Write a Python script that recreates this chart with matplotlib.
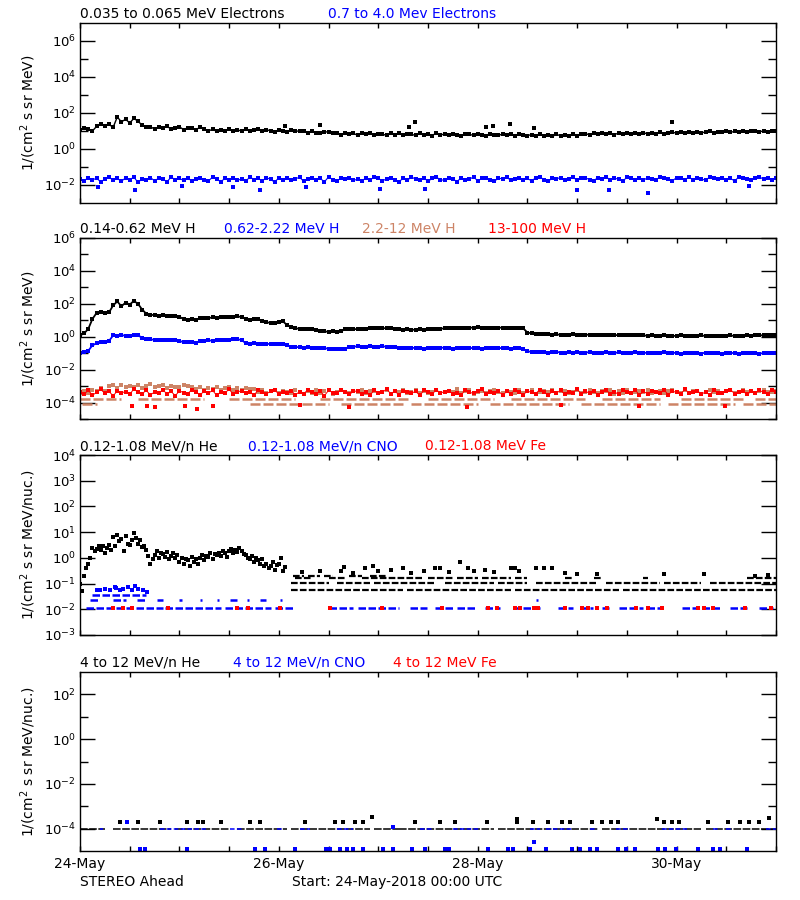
import numpy as np
import matplotlib
matplotlib.use('Agg')
import matplotlib.pyplot as plt
from matplotlib.ticker import FixedLocator, LogFormatterMathtext, NullFormatter, NullLocator

plt.rcParams['font.family'] = ['DejaVu Sans']
plt.rcParams['mathtext.default'] = 'regular'

BLUE = '#0000FF'
RED = '#FF0000'
TAN = '#CD8466'

# ---------------- time axis (hours after 24-May-2018 00:00) ----------------
tick_hours = [0, 12, 24, 36, 48, 60, 72, 84, 96, 108, 120, 132, 144, 156, 168]
date_label_hours = [0, 48, 96, 144]
date_labels = ['24-May', '26-May', '28-May', '30-May']

# ---------------- panel 1 : electrons (hourly) ----------------
e_low = [11, 15, 12.5, 10,
         18, 25, 20, 23,
         16,
         60, 32, 45, 28, 50, 35,
         21, 17,
         17, 13, 16, 14, 18, 13, 15, 17, 12, 15, 14, 12, 16,
         13, 10, 12.5, 9.5, 12, 10.5, 13, 9.8, 11.5, 10, 12.8, 9.6, 11, 12.2, 9.5, 11.8, 10.2, 9.2, 11.6, 10, 8.9, 11.2, 9.4, 10.4,
         9.5, 7.8, 9.8, 8.2, 7.4, 9.2, 8.6, 7.6,
         7.6, 6.2, 7.8, 6.5, 7.3, 5.9, 7.5, 6.4, 7.9, 6.1, 7.2, 6.6, 5.8, 7.4, 6.3, 7.7, 6.0, 7.1, 6.5, 5.7,
         7.3, 6.2, 6.9, 5.6, 7.6, 6.0, 6.8, 5.9, 7.2, 6.3, 5.5, 7.0, 6.4, 5.8, 6.9, 6.1, 5.4, 7.1, 6.2, 5.7,
         6.8, 5.9, 6.5, 5.3, 6.9, 6.0, 5.6,
         6.3, 5.2, 6.7, 5.5, 6.1, 5.0, 6.5, 5.4, 6.2, 5.6, 6.8, 5.3, 6.4,
         7.2, 6.1, 7.6, 6.4, 7.9, 6.6, 7.3, 6.2, 7.8, 6.7, 8.1, 6.5, 7.4, 6.9, 8.2, 6.8, 7.5, 7.0, 8.3, 6.9, 7.7,
         8.6, 7.5, 9.1, 7.8, 8.8, 7.6, 9.3, 8.0, 8.7, 9.5, 8.1, 9.2, 8.3, 9.8, 8.5, 9.4, 8.8, 10.2, 8.9, 9.6,
         10.4, 9.0, 10.1, 9.3, 10.6, 9.7]
e_low_out_h = [49.4, 57.9, 79.4, 80.8, 97.9, 99.6, 103.7, 109.7, 143]
e_low_out_v = [19, 21, 17, 33, 17, 20, 24, 15, 33]

e_high = [0.022, 0.017, 0.026, 0.019, 0.024, 0.015, 0.021, 0.028, 0.018, 0.023,
          0.016, 0.025, 0.02, 0.027, 0.014, 0.022, 0.019, 0.026, 0.017, 0.024,
          0.021, 0.015, 0.028, 0.019, 0.023, 0.018, 0.026, 0.016, 0.022, 0.025,
          0.02, 0.017, 0.027, 0.021, 0.015, 0.024, 0.019, 0.026, 0.018, 0.022,
          0.016, 0.028, 0.02, 0.023, 0.017, 0.025, 0.021, 0.014, 0.026, 0.019,
          0.024, 0.018, 0.022, 0.027, 0.016, 0.021, 0.025, 0.019, 0.023, 0.015,
          0.028, 0.02, 0.017, 0.024, 0.022, 0.026, 0.018, 0.021, 0.016, 0.025,
          0.019, 0.027, 0.023, 0.017, 0.022, 0.026, 0.02, 0.015, 0.024, 0.018,
          0.028, 0.021, 0.019, 0.025, 0.016, 0.023, 0.027, 0.02, 0.018, 0.024,
          0.022, 0.015, 0.026, 0.019, 0.021, 0.028, 0.017, 0.023, 0.025, 0.02,
          0.016, 0.024, 0.022, 0.027, 0.018, 0.021, 0.026, 0.019, 0.023, 0.017,
          0.025, 0.028, 0.02, 0.016, 0.024, 0.022, 0.026, 0.019, 0.021, 0.027,
          0.018, 0.023, 0.025, 0.02, 0.017, 0.026, 0.022, 0.028, 0.019, 0.024,
          0.021, 0.016, 0.027, 0.023, 0.02, 0.025, 0.018, 0.026, 0.022, 0.019,
          0.028, 0.024, 0.021, 0.017, 0.026, 0.023, 0.02, 0.027, 0.019, 0.025,
          0.022, 0.018, 0.028, 0.024, 0.021, 0.026, 0.02, 0.023, 0.017, 0.027,
          0.025, 0.022, 0.019, 0.026, 0.028, 0.021, 0.024, 0.02, 0.023]
e_high_out_h = [4.3, 13.3, 24.6, 36.9, 43.4, 54.5, 72.4, 83.2, 119.9, 127.8, 137, 161.6]
e_high_out_v = [0.0077, 0.0053, 0.0085, 0.0077, 0.0053, 0.0077, 0.006, 0.006, 0.0053, 0.0053, 0.0036, 0.009]

# ---------------- panel 2 : protons (hourly) ----------------
h_014 = [1.2, 1.6, 3.0, 12,
         28, 31, 27, 30,
         80, 140, 70, 120, 90, 150, 100,
         45,
         25, 22, 20, 19, 20, 18, 17, 18, 16,
         12, 11, 11.5, 10.5,
         13, 14, 13.5, 15, 14, 15, 16, 15.5, 16, 17, 16,
         12, 11, 12, 11.5,
         9, 7.5, 7, 7.2, 7.8, 8.6,
         5, 3.8, 3.3, 3, 3.1, 2.8, 2.9, 2.6,
         2.2, 2.1, 2.0, 2.1, 2.0, 2.2,
         2.8, 2.9, 3.0, 2.8, 3.1, 2.9,
         3.3, 3.5, 3.4, 3.2, 3.4, 3.3, 3.0, 2.8,
         2.7, 2.8, 2.6, 2.7, 2.8, 2.7, 2.9, 2.8, 3.0, 3.1, 3.2, 3.3, 3.2, 3.4,
         3.4, 3.5, 3.6, 3.5, 3.7, 3.5, 3.6, 3.4, 3.5, 3.6, 3.5, 3.4, 3.5, 3.3, 3.4, 3.2,
         1.8, 1.6, 1.5, 1.4, 1.45, 1.4, 1.35, 1.4, 1.3, 1.35, 1.3, 1.4, 1.3, 1.25, 1.3, 1.35,
         1.3, 1.25, 1.3, 1.2, 1.25, 1.3, 1.2, 1.25, 1.2, 1.3, 1.2, 1.25,
         1.2, 1.15, 1.2, 1.1, 1.15, 1.2, 1.1, 1.15, 1.1, 1.2, 1.15, 1.1, 1.15, 1.1, 1.2, 1.1, 1.15,
         1.1, 1.05, 1.15, 1.1, 1.2, 1.1, 1.15, 1.1, 1.2, 1.15, 1.2, 1.25, 1.2, 1.25, 1.2, 1.3]

h_062 = [0.11, 0.12, 0.14,
         0.3, 0.4,
         0.45, 0.5, 0.55,
         1.2, 1.1, 1.25, 1.15, 1.1, 1.2, 1.3,
         0.8, 0.72, 0.68, 0.66, 0.64, 0.65, 0.62, 0.63, 0.6, 0.55,
         0.47, 0.45, 0.46, 0.44,
         0.55, 0.58, 0.6, 0.57, 0.62, 0.6, 0.63, 0.65, 0.7, 0.68, 0.65,
         0.4, 0.38, 0.39, 0.36, 0.37, 0.38, 0.35, 0.36, 0.34, 0.35, 0.3,
         0.25, 0.24, 0.23, 0.22, 0.23, 0.22, 0.21, 0.22, 0.2, 0.19, 0.18,
         0.18, 0.17, 0.19,
         0.24, 0.25, 0.26, 0.24, 0.25, 0.27, 0.25, 0.24, 0.26, 0.25, 0.24, 0.23, 0.22,
         0.21, 0.2, 0.22, 0.2, 0.21, 0.19, 0.2, 0.21, 0.2, 0.22, 0.21, 0.2, 0.19, 0.21, 0.2,
         0.22, 0.21, 0.2, 0.21, 0.19, 0.2, 0.22, 0.21, 0.2, 0.21, 0.2, 0.19, 0.21, 0.2, 0.18,
         0.13, 0.12, 0.125, 0.115, 0.12, 0.11, 0.115, 0.12, 0.11, 0.105, 0.115, 0.11, 0.12, 0.105, 0.11,
         0.115, 0.1, 0.11, 0.105, 0.12, 0.11, 0.1, 0.115, 0.105, 0.11, 0.1, 0.115, 0.105, 0.11, 0.1,
         0.105, 0.11, 0.1, 0.115, 0.105, 0.1, 0.11, 0.095, 0.105, 0.11, 0.1, 0.105, 0.095, 0.11, 0.1,
         0.105, 0.1, 0.095, 0.11, 0.1, 0.105, 0.095, 0.1, 0.105, 0.1, 0.11, 0.095, 0.1, 0.105, 0.1, 0.1]

# 2.2-12 MeV H, in units of 1e-4
h_22_x1e4 = [4.0, 5.1, 3.6, 6.2, 4.8, 7.5, 5.3,
             9.5, 11.0, 7.8, 12.0, 8.6, 10.5, 9.0, 11.5, 8.0, 10.0, 12.5, 8.8, 9.6, 11.2, 7.6, 10.8, 9.2, 8.4, 11.8, 9.8,
             8.5, 6.4, 9.2, 5.8, 7.9, 6.8, 8.8, 5.5, 7.2, 9.0, 6.1, 7.6, 5.9, 8.2, 6.6, 7.0,
             4.2, 5.5, 3.8, 4.9, 6.0, 3.6, 5.2, 4.4, 3.9, 5.8, 4.6, 3.4, 5.1, 4.0, 6.2, 3.7, 4.8, 5.4, 3.5, 4.3,
             5.6, 4.1, 3.8, 5.0, 4.5, 6.1, 3.6, 4.7, 5.3, 3.9, 4.4, 5.9, 3.5, 4.9, 4.2, 5.5, 3.7, 4.6, 6.0, 4.0,
             5.2, 3.8, 4.5, 5.7, 3.6, 4.3, 5.0, 4.1, 6.3, 3.9, 4.8, 5.4, 3.5, 4.4, 5.1, 3.7, 4.9, 5.8, 4.2, 3.6,
             5.3, 4.6, 4.0, 6.1, 3.8, 4.7, 5.5, 3.5, 4.3, 5.0, 4.1, 5.9, 3.7, 4.8, 5.2, 3.9, 4.5, 6.0, 3.6, 4.4,
             5.6, 4.2, 3.8, 5.1, 4.7, 5.4, 3.5, 4.9, 4.0, 5.8, 3.7, 4.6, 5.3, 4.1, 6.2, 3.9, 4.5, 5.0, 3.6, 4.8,
             5.5, 4.3, 3.8, 5.7, 4.0, 4.9, 5.2, 3.5, 4.6, 6.1, 4.2, 5.0, 3.9, 4.7, 5.4, 3.6, 4.4, 5.9, 4.1, 5.1,
             3.8, 4.8, 5.6, 4.3, 4.5, 5.2]
h_22_level1 = 1.7e-4
h_22_level1_spans = [(0, 10), (14, 30), (36, 52), (58, 80), (84, 100), (104, 122), (126, 140), (145, 160), (163, 168)]
h_22_level2 = 8.5e-5
h_22_level2_spans = [(0.5, 4), (41, 60), (63, 78), (80, 96), (99, 118), (121, 140), (142, 158), (160, 168)]

# 13-100 MeV H, in units of 1e-4
h_13_x1e4 = [4.5, 3.2, 5.6, 2.8, 4.1, 6.3, 3.6, 4.8, 2.5, 5.2,
             3.9, 4.6, 3.1, 6.8, 4.2, 3.5, 5.4, 2.9, 4.4, 3.8,
             5.9, 3.3, 4.7, 2.6, 5.1, 4.0, 3.4, 6.1, 4.3, 3.0,
             4.9, 3.7, 5.5, 2.7, 4.5, 3.9, 6.4, 3.2, 4.6, 5.0,
             3.6, 4.2, 2.8, 5.7, 4.1, 3.4, 4.8, 6.0, 3.1, 4.4,
             3.8, 5.3, 2.9, 4.6, 3.5, 5.8, 4.2, 3.3, 4.9, 2.6,
             5.5, 4.0, 3.7, 6.2, 4.3, 3.1, 4.7, 5.1, 3.4, 4.5,
             2.8, 5.6, 3.9, 4.2, 6.5, 3.5, 4.8, 3.0, 5.2, 4.1,
             3.6, 4.9, 2.7, 5.4, 4.4, 3.2, 6.0, 3.8, 4.6, 5.3,
             3.3, 4.0, 2.9, 5.7, 4.2, 3.6, 4.8, 6.3, 3.1, 4.5,
             3.9, 5.1, 2.8, 4.7, 3.4, 5.9, 4.3, 3.0, 5.0, 4.1,
             3.5, 6.1, 4.4, 2.7, 4.9, 3.8, 5.5, 3.2, 4.6, 4.0,
             6.6, 3.3, 4.8, 3.7, 5.2, 2.9, 4.3, 5.7, 3.5, 4.5,
             3.1, 5.4, 4.2, 3.8, 6.0, 2.8, 4.7, 3.4, 5.1, 4.4,
             3.6, 5.8, 3.0, 4.9, 4.1, 3.3, 6.4, 3.9, 4.6, 5.3,
             3.2, 4.5, 2.9, 5.6, 4.0, 3.7, 4.8, 6.2, 3.4, 4.3,
             5.0, 3.1, 4.7, 3.8, 5.5, 4.2, 3.5, 6.0, 4.4]
h_13_out_h = [12.5, 16.2, 18.1, 25.3, 28.2, 32, 53, 65, 93.3, 116, 135, 155.6]
h_13_out_v = [6.6e-5, 6.6e-5, 5e-5, 6.6e-5, 4e-5, 6e-5, 7e-5, 5.5e-5, 5.5e-5, 7e-5, 6e-5, 6.6e-5]

# ---------------- panel 3 : 0.12-1.08 MeV/n ions ----------------
he_early_a = [0.1, 0.2, 0.6, 2.5, 2.2, 2.0, 1.5, 3.2, 6.5, 8.0, 5.5, 7.0, 3.2, 9.0, 3.5, 2.6, 2.0, 0.6,
              1.3, 1.0, 1.4, 1.7, 1.2, 1.0, 0.7, 0.6, 0.8, 1.1, 0.9, 1.0, 0.8, 1.1, 0.9, 1.3, 1.2, 1.5,
              1.8, 1.5, 1.7, 1.9, 1.3, 0.9, 0.7, 0.8, 0.9, 0.6, 0.5, 0.35, 0.6, 0.3]
he_early_b = [0.05, 0.4, 1.0, 1.8, 3.0, 2.8, 2.4, 2.1, 3.0, 4.5, 1.8, 3.5, 4.8, 6.0, 5.0, 3.0, 1.2, 0.9,
              1.8, 1.6, 1.1, 0.9, 1.5, 1.3, 1.0, 0.9, 0.5, 0.7, 0.6, 1.3, 1.2, 1.5, 1.4, 1.6, 1.8, 1.1,
              2.2, 2.0, 2.4, 1.4, 1.0, 1.2, 1.0, 0.6, 0.5, 0.4, 0.7, 0.55, 1.0, 0.45]
he_late_h = [53.5, 58, 63, 63.7, 66, 68.7, 70.7, 72, 75, 78, 80, 83, 85.6, 87, 89, 91.7, 93.6, 95,
             97.7, 100, 104, 105, 106, 110, 112, 114, 117, 120, 124.7, 141, 150.7, 163, 166]
he_late_v = [0.29, 0.3, 0.3, 0.45, 0.26, 0.4, 0.49, 0.3, 0.35, 0.4, 0.26, 0.3, 0.4, 0.4, 0.28, 0.7, 0.4, 0.3,
             0.35, 0.27, 0.42, 0.4, 0.3, 0.4, 0.4, 0.4, 0.25, 0.23, 0.23, 0.23, 0.23, 0.2, 0.22]
he_levels = [0.2, 0.16, 0.11, 0.054]
he_level_spans = [
    [(51.5, 54), (55, 58), (59, 61), (65, 68), (70, 74)],
    [(52, 56), (60, 64), (68, 83), (84, 90), (91, 96), (97, 104), (105, 108), (117, 119), (124, 126), (136, 137), (161, 168)],
    [(51, 60), (62, 70), (71, 86), (88, 100), (101, 108), (110, 125), (127, 140), (141, 150), (152, 168)],
    [(51, 78), (79, 104), (105, 130), (131, 168)],
]
cno_scatter_h = [4.0, 4.8, 6.0, 7.2, 8.4, 8.8, 9.6, 10.4, 11.6, 12.5, 13.3, 14.1, 15.3, 16.1]
cno_scatter_v = [0.057, 0.054, 0.060, 0.057, 0.076, 0.066, 0.054, 0.062, 0.072, 0.057, 0.081, 0.062, 0.054, 0.049]
cno_levels = [0.036, 0.023, 0.011]
cno_level_spans = [
    [(3, 16)],
    [(2.4, 4.8), (8, 11.2), (13.7, 16.1), (18.5, 20.1), (24, 24.6), (28.9, 29.4), (33, 33.5), (36.2, 37.8),
     (40.2, 40.7), (43.4, 45), (48.2, 48.7), (110, 110.6)],
    [(1.5, 20), (20.5, 34), (35, 46), (47, 51.4), (60, 66), (67, 77), (79.6, 83.7), (85.6, 90), (90.9, 95.7),
     (97.7, 101.3), (104.5, 111), (115.3, 119), (120.6, 123.8), (126, 127.8), (130, 135.8), (136.8, 140.6),
     (145.4, 154.4), (156.8, 160.9), (164, 167.2)],
]
fe_level = 0.011
fe_h = [8, 10.4, 12.5, 21.2, 37.9, 40.5, 48.2, 60.3, 72.8, 87.3, 98.4, 100.6, 104.9, 106.1, 109.7, 110.5,
        117, 121.1, 122.5, 124.7, 127.1, 134.3, 137, 140.4, 149.1, 150.7, 152.7, 160.4, 166.9]

# ---------------- panel 4 : 4-12 MeV/n ions ----------------
he4_level = 1e-4
he4_level_spans = [(0, 6), (8, 22), (23, 36), (38, 50), (51, 70), (71, 77), (77, 100), (101, 125), (126, 150), (151, 168)]
cno4_level_spans = [(4.8, 5.5), (19.3, 30.6), (36.2, 39.3), (47.5, 49), (53, 55.5), (62, 65.8), (82, 85), (90, 96.5),
                    (108.5, 111), (112.6, 119), (123, 124.7), (129.5, 132.7), (140.6, 146.4), (152.7, 154.4),
                    (156, 157.5), (165.7, 168)]
he4_h = [9.6, 14, 19.3, 25.8, 28.5, 29.7, 34, 41, 43.4, 54.3, 61.5, 63.4, 66.3, 68.3, 70.4, 80.8, 86.8, 90.4,
         98.2, 105.4, 105.6, 109.3, 112.9, 116.3, 118.2, 123.7, 126.1, 128.1, 129.8, 139.2, 140.9, 142.8, 144.7,
         151.5, 156.3, 159.2, 161.6, 164, 166.4]
he4_v = [1.9e-4, 1.9e-4, 1.9e-4, 1.9e-4, 1.9e-4, 1.9e-4, 1.9e-4, 1.9e-4, 1.9e-4, 1.9e-4, 1.9e-4, 1.9e-4, 1.9e-4,
         1.9e-4, 3.2e-4, 1.9e-4, 1.9e-4, 1.9e-4, 1.9e-4, 1.9e-4, 2.8e-4, 1.9e-4, 1.9e-4, 1.9e-4, 1.9e-4, 1.9e-4,
         1.9e-4, 1.9e-4, 1.9e-4, 2.8e-4, 1.9e-4, 1.9e-4, 1.9e-4, 1.9e-4, 1.9e-4, 1.9e-4, 1.9e-4, 1.9e-4, 3.0e-4]
cno4_h = [11.3, 75.5, 14.5, 15.7, 25.8, 42.2, 44.6, 51.9, 59.3, 60.3, 62.7, 64.4, 65.8, 68.3, 73.1, 75.5, 80.1,
          83.2, 88, 89, 98.4, 103.2, 104.4, 108.5, 109.7, 112.6, 118.7, 120.6, 123, 124.7, 129.8, 131.9, 133.9,
          139.4, 141.1, 143.8, 149.1, 152.9, 154.4, 160.9]
cno4_v = [1.9e-4, 1.2e-4, 1.2e-5, 1.2e-5, 1.2e-5, 1.2e-5, 1.2e-5, 1.2e-5, 1.2e-5, 1.2e-5, 1.2e-5, 1.2e-5, 1.2e-5,
          1.2e-5, 1.2e-5, 1.2e-5, 1.2e-5, 1.2e-5, 1.2e-5, 1.2e-5, 1.2e-5, 1.2e-5, 1.2e-5, 1.2e-5, 2.4e-5, 1.2e-5,
          1.2e-5, 1.2e-5, 1.2e-5, 1.2e-5, 1.2e-5, 1.2e-5, 1.2e-5, 1.2e-5, 1.2e-5, 1.2e-5, 1.2e-5, 1.2e-5, 1.2e-5,
          1.2e-5]

# ---------------- titles / labels ----------------
panel_titles = [
    [(80, '0.035 to 0.065 MeV Electrons', 'black'), (328, '0.7 to 4.0 Mev Electrons', BLUE)],
    [(80, '0.14-0.62 MeV H', 'black'), (224, '0.62-2.22 MeV H', BLUE), (362, '2.2-12 MeV H', TAN), (488, '13-100 MeV H', RED)],
    [(80, '0.12-1.08 MeV/n He', 'black'), (248, '0.12-1.08 MeV/n CNO', BLUE), (425, '0.12-1.08 MeV Fe', RED)],
    [(80, '4 to 12 MeV/n He', 'black'), (233, '4 to 12 MeV/n CNO', BLUE), (393, '4 to 12 MeV Fe', RED)],
]
ylabels = ['1/(cm$^2$ s sr MeV)', '1/(cm$^2$ s sr MeV)', '1/(cm$^2$ s sr MeV/nuc.)', '1/(cm$^2$ s sr MeV/nuc.)']
ylims = [(1e-3, 1e7), (1e-5, 1e6), (1e-3, 1e4), (1e-5, 1e3)]
major_exp = [[-2, 0, 2, 4, 6], [-4, -2, 0, 2, 4, 6], [-3, -2, -1, 0, 1, 2, 3, 4], [-4, -2, 0, 2]]
minor_exp = [[-1, 1, 3, 5], [-5, -3, -1, 1, 3, 5], [], [-3, -1, 1]]

# ---------------- figure ----------------
W, H = 800, 900
fig = plt.figure(figsize=(W / 100, H / 100), dpi=100)
panel_px = [(23, 203), (238, 419), (455, 635), (672, 851)]
L, R = 80, 776
axs = []
for top, bot in panel_px:
    ax = fig.add_axes([L / W, 1 - bot / H, (R - L) / W, (bot - top) / H])
    axs.append(ax)

MK = dict(marker='s', linestyle='none', mew=0)

# panel 1
ax = axs[0]
t = np.arange(len(e_low))
ax.plot(t, e_low, color='black', lw=1.0, marker='s', ms=2.2, mew=0)
ax.plot(e_low_out_h, e_low_out_v, color='black', ms=2.2, **MK)
t = np.arange(len(e_high))
ax.plot(t, e_high, color=BLUE, lw=0.8, marker='s', ms=2.4, mew=0)
ax.plot(e_high_out_h, e_high_out_v, color=BLUE, ms=2.2, **MK)

# panel 2
ax = axs[1]
t = np.arange(len(h_014))
ax.plot(t, h_014, color='black', lw=1.3, marker='s', ms=2.4, mew=0)
t = np.arange(len(h_062))
ax.plot(t, h_062, color=BLUE, lw=1.3, marker='s', ms=2.4, mew=0)
t = np.arange(len(h_22_x1e4))
ax.plot(t, np.array(h_22_x1e4) * 1e-4, color=TAN, ms=2.4, **MK)
for lvl, spans in ((h_22_level1, h_22_level1_spans), (h_22_level2, h_22_level2_spans)):
    ax.hlines([lvl] * len(spans), [s[0] for s in spans], [s[1] for s in spans], colors=TAN, lw=1.8,
              linestyles=(0, (4, 1.2)))
t = np.arange(len(h_13_x1e4))
ax.plot(t, np.array(h_13_x1e4) * 1e-4, color=RED, lw=0.7, marker='s', ms=2.4, mew=0)
ax.plot(h_13_out_h, h_13_out_v, color=RED, ms=2.2, **MK)

# panel 3
ax = axs[2]
ax.plot(np.arange(len(he_early_a)), he_early_a, color='black', ms=2.6, **MK)
ax.plot(np.arange(len(he_early_b)) + 0.5, he_early_b, color='black', ms=2.6, **MK)
for lvl, spans in zip(he_levels, he_level_spans):
    ax.hlines([lvl] * len(spans), [s[0] for s in spans], [s[1] for s in spans], colors='black', lw=1.6,
              linestyles=(0, (3, 1)))
ax.plot(he_late_h, he_late_v, color='black', ms=2.2, **MK)
for lvl, spans in zip(cno_levels, cno_level_spans):
    ax.hlines([lvl] * len(spans), [s[0] for s in spans], [s[1] for s in spans], colors=BLUE, lw=1.8,
              linestyles=(0, (3, 1)))
ax.plot(cno_scatter_h, cno_scatter_v, color=BLUE, ms=2.6, **MK)
ax.plot(fe_h, [fe_level] * len(fe_h), color=RED, ms=2.8, **MK)

# panel 4
ax = axs[3]
ax.hlines([he4_level] * len(he4_level_spans), [s[0] for s in he4_level_spans], [s[1] for s in he4_level_spans],
          colors='black', lw=1.1, linestyles=(0, (5, 1)))
ax.hlines([he4_level] * len(cno4_level_spans), [s[0] for s in cno4_level_spans], [s[1] for s in cno4_level_spans],
          colors=BLUE, lw=1.1, linestyles=(0, (3, 1.5)))
ax.plot(he4_h, he4_v, color='black', ms=2.2, **MK)
ax.plot(cno4_h, cno4_v, color=BLUE, ms=2.2, **MK)

# axes styling
for i, ax in enumerate(axs):
    ax.set_yscale('log')
    ax.set_ylim(*ylims[i])
    ax.set_xlim(0, 168)
    ax.yaxis.set_major_locator(FixedLocator([10.0 ** e for e in major_exp[i]]))
    if minor_exp[i]:
        ax.yaxis.set_minor_locator(FixedLocator([10.0 ** e for e in minor_exp[i]]))
    else:
        ax.yaxis.set_minor_locator(NullLocator())
    ax.yaxis.set_major_formatter(LogFormatterMathtext())
    ax.yaxis.set_minor_formatter(NullFormatter())
    ax.xaxis.set_major_locator(FixedLocator(tick_hours))
    ax.xaxis.set_minor_locator(NullLocator())
    ax.tick_params(axis='y', which='major', direction='in', length=11, width=1, left=True, right=True,
                   labelsize=9.5, pad=3, labelright=False)
    ax.tick_params(axis='y', which='minor', direction='in', length=5.5, width=1, left=True, right=True)
    ax.tick_params(axis='x', which='major', direction='in', length=3.5, width=1, top=True, bottom=True,
                   labelbottom=False)
    for sp in ax.spines.values():
        sp.set_linewidth(1.0)
    ax.set_ylabel(ylabels[i], fontsize=10)
    ax.yaxis.set_label_coords(-0.06, 0.5)
    top = panel_px[i][0]
    for xpx, txt, col in panel_titles[i]:
        fig.text(xpx / W, 1 - (top - 5) / H, txt, color=col, fontsize=10, ha='left', va='baseline')

ax = axs[3]
labels = [date_labels[date_label_hours.index(h)] if h in date_label_hours else '' for h in tick_hours]
ax.set_xticks(tick_hours)
ax.set_xticklabels(labels)
ax.tick_params(axis='x', labelbottom=True, labelsize=10, pad=4)

fig.text(80 / W, 1 - 886 / H, 'STEREO Ahead', fontsize=10, ha='left', va='baseline')
fig.text(292 / W, 1 - 886 / H, 'Start: 24-May-2018 00:00 UTC', fontsize=10, ha='left', va='baseline')

fig.savefig('out.png', dpi=100)
